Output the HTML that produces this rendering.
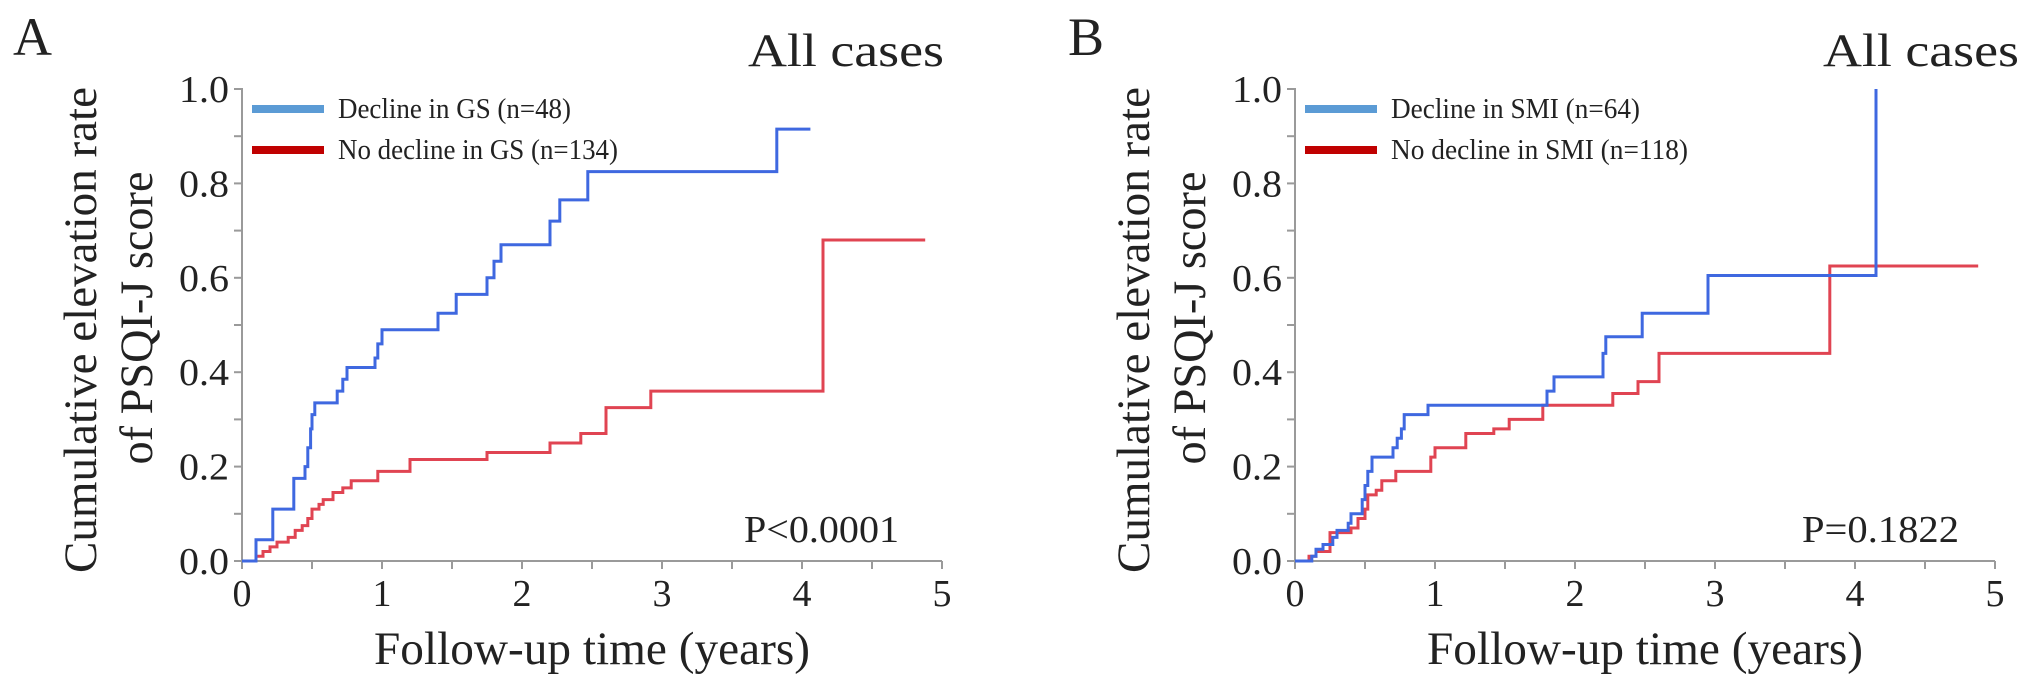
<!DOCTYPE html>
<html><head><meta charset="utf-8"><style>
html,body{margin:0;padding:0;background:#fff}
svg{display:block}
text{font-family:"Liberation Serif",serif;fill:#222}
</style></head><body>
<svg id="chart" width="2031" height="687" viewBox="0 0 2031 687"></svg>
<script>
// Panel A data
const aBlueT = [0,0.1,0.22,0.37,0.45,0.47,0.49,0.5,0.52,0.68,0.72,0.75,0.95,0.97,1.0,1.4,1.53,1.75,1.8,1.85,2.2,2.27,2.47,3.82];
const aBlueV = [0,0.045,0.11,0.175,0.2,0.24,0.28,0.31,0.335,0.36,0.385,0.41,0.43,0.46,0.49,0.525,0.565,0.6,0.635,0.67,0.72,0.765,0.825,0.915];
const aBlueEnd = 4.06;
const aRedT = [0,0.1,0.15,0.2,0.25,0.33,0.38,0.43,0.47,0.5,0.55,0.58,0.65,0.72,0.78,0.97,1.2,1.75,2.2,2.42,2.6,2.92,4.15];
const aRedV = [0,0.01,0.02,0.03,0.04,0.05,0.065,0.075,0.09,0.11,0.12,0.13,0.145,0.155,0.17,0.19,0.215,0.23,0.25,0.27,0.325,0.36,0.68];
const aRedEnd = 4.88;
// Panel B data
const bBlueT = [0,0.12,0.15,0.2,0.27,0.3,0.38,0.4,0.48,0.5,0.52,0.55,0.7,0.73,0.76,0.78,0.95,1.8,1.85,2.2,2.22,2.48,2.95,4.15];
const bBlueV = [0,0.01,0.025,0.035,0.05,0.065,0.08,0.1,0.13,0.16,0.19,0.22,0.24,0.26,0.28,0.31,0.33,0.36,0.39,0.44,0.475,0.525,0.605,1.0];
const bBlueEnd = 4.15;
const bRedT = [0,0.1,0.15,0.25,0.4,0.45,0.5,0.52,0.58,0.62,0.72,0.97,1.0,1.22,1.42,1.53,1.77,2.27,2.45,2.6,3.82];
const bRedV = [0,0.01,0.02,0.06,0.07,0.09,0.11,0.14,0.15,0.17,0.19,0.22,0.24,0.27,0.28,0.3,0.33,0.355,0.38,0.44,0.625];
const bRedEnd = 4.88;
const yTicks = ["0.0","0.2","0.4","0.6","0.8","1.0"];
const xTicks = ["0","1","2","3","4","5"];
const legendA = ["Decline in GS (n=48)","No decline in GS (n=134)"];
const legendB = ["Decline in SMI (n=64)","No decline in SMI (n=118)"];
const pA = "P<0.0001", pB = "P=0.1822";

const NS="http://www.w3.org/2000/svg";
const svg=document.getElementById('chart');
function mk(tag,attrs,parent){const e=document.createElementNS(NS,tag);for(const k in attrs)e.setAttribute(k,attrs[k]);(parent||svg).appendChild(e);return e;}
function txt(s,attrs,parent){const e=mk('text',attrs,parent);e.textContent=s;return e;}

function panel(x0,letter,letterX,titleX,titleW,legend,legW,pText,pX,pW,blue,red,name){
  const g=mk('g',{});
  
  
  const y0=561, ppu=472, ppy=140;
  const sx=t=>x0+t*ppy, sy=v=>y0-v*ppu;
  const L=txt(letter,{x:letterX,y:55,'font-size':54},g);
  
  
  const T=txt("All cases",{x:titleX,y:66,'font-size':47,textLength:titleW,lengthAdjust:'spacingAndGlyphs'},g);
  
  
  const ax=mk('g',{stroke:'#9a9a9a','stroke-width':2},g);
  
  
  mk('line',{x1:sx(0),y1:sy(1.0)-1,x2:sx(0),y2:y0},ax);
  mk('line',{x1:sx(0),y1:y0,x2:sx(5),y2:y0},ax);
  for(let i=0;i<=10;i++){mk('line',{x1:sx(0)-8,y1:sy(i/10),x2:sx(0),y2:sy(i/10)},ax);}
  for(let i=0;i<=10;i++){mk('line',{x1:sx(i/2),y1:y0,x2:sx(i/2),y2:y0+8},ax);}
  yTicks.forEach((s,i)=>{const e=txt(s,{x:sx(0)-13,y:sy(i*0.2)+13,'font-size':38,'text-anchor':'end',textLength:50,lengthAdjust:'spacingAndGlyphs'},g);
    
    });
  xTicks.forEach((s,i)=>{const e=txt(s,{x:sx(i),y:606,'font-size':38,'text-anchor':'middle'},g);
    
    });
  const xt=txt("Follow-up time (years)",{x:sx(2.5),y:664,'font-size':47,'text-anchor':'middle',textLength:436,lengthAdjust:'spacingAndGlyphs'},g);
  
  
  const yt=txt("Cumulative elevation rate",{x:0,y:0,'font-size':47,'text-anchor':'middle',transform:`translate(${x0-146},330) rotate(-90)`,textLength:486,lengthAdjust:'spacingAndGlyphs'},g);
  
  
  const yt2=txt("of PSQI-J score",{x:0,y:0,'font-size':47,'text-anchor':'middle',transform:`translate(${x0-90},318) rotate(-90)`,textLength:293,lengthAdjust:'spacingAndGlyphs'},g);
  
  
  function step(T,V,end,color,nm){
    let d=`M${sx(T[0])},${sy(V[0])}`;
    for(let i=1;i<T.length;i++){d+=` H${sx(T[i])} V${sy(V[i])}`;}
    d+=` H${sx(end)}`;
    const p=mk('path',{d:d,fill:'none',stroke:color,'stroke-width':3},g);
    
    
  }
  step(red[0],red[1],red[2],'#e04452','series-no-decline');
  step(blue[0],blue[1],blue[2],'#3f68e0','series-decline');
  const lg=mk('g',{},g);
  
  
  const cols=['#5b9bd5','#c00000'], ys=[109,150];
  legend.forEach((s,i)=>{
    const r=mk('rect',{x:x0+10,y:ys[i]-4,width:72,height:8,fill:cols[i]},lg);
    
    
    const e=txt(s,{x:x0+96,y:ys[i]+9,'font-size':28,textLength:legW[i],lengthAdjust:'spacingAndGlyphs'},lg);
    
    
  });
  const p=txt(pText,{x:pX,y:542,'font-size':38,textLength:pW,lengthAdjust:'spacingAndGlyphs'},g);
  
  
}
panel(242,"A",13,748,196,legendA,[233,280],pA,744,155,[aBlueT,aBlueV,aBlueEnd],[aRedT,aRedV,aRedEnd],'panel-a');
panel(1295,"B",1068,1823,196,legendB,[249,297],pB,1802,157,[bBlueT,bBlueV,bBlueEnd],[bRedT,bRedV,bRedEnd],'panel-b');
</script>
</body></html>
